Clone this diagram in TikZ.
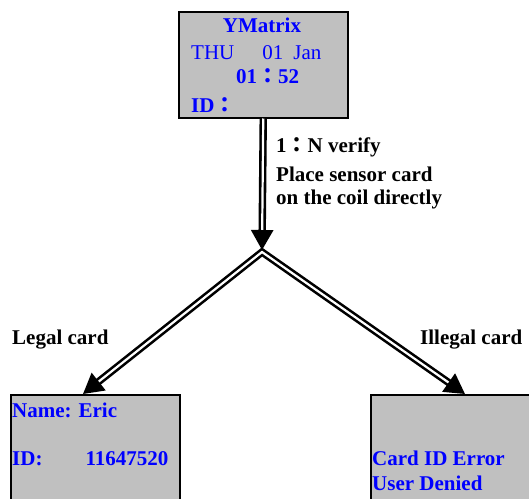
\documentclass[tikz,border=0pt]{standalone}
\usepackage{fontspec}
\setmainfont{Liberation Serif}
\newfontfamily\cjk{Noto Sans CJK TC}
\usetikzlibrary{arrows.meta}
\usetikzlibrary{calc}
\usepackage{xcolor}
\definecolor{panelgray}{HTML}{C0C0C0}
\definecolor{lcdblue}{HTML}{0000FF}

\begin{document}
\begin{tikzpicture}[
  x=1pt, y=-1pt,
  panel/.style={draw, line width=1.5pt, fill=panelgray, minimum width=169pt, minimum height=106pt, inner sep=0pt, anchor=north west},
  lcd/.style={text=lcdblue, font=\bfseries\fontsize{21}{25}\selectfont, inner sep=0pt, anchor=base west},
  note/.style={font=\bfseries\fontsize{21}{25}\selectfont, inner sep=0pt, anchor=base west},
  dbl/.style={line width=2.6pt, double=white, double distance=2.2pt}
]
\useasboundingbox (0,0) rectangle (529,498);

% the three screens
\node[panel] (lcd) at (178,11) {};
\node[panel] (okbox) at (10,394) {};
\node[panel] (badbox) at (370,394) {};

\coordinate (fork) at (262,252);
\coordinate (oktip) at ($(okbox.north west)+(73,0)$);
\coordinate (badtip) at ($(badbox.north west)+(95,0)$);

% screen texts
\node[lcd, anchor=base] (brand) at (262,32) {YMatrix};
\node[lcd, font=\fontsize{21}{25}\selectfont] (date) at (191,59) {THU\hspace{28pt}01\hspace{10pt}Jan};
\node[lcd] (clock) at (236,83) {01{\cjk ：}52};
\node[lcd] (idline) at (191,112) {ID{\cjk ：}};

\node[lcd] (name) at (12,417) {Name: Eric};
\node[lcd] (idnum) at (12,465) {ID:\hspace{43pt}11647520};

\node[lcd] (err) at (372,465) {Card ID Error};
\node[lcd] (deny) at (372,490) {User Denied};

% connectors
\draw[dbl, {Triangle[length=20pt,width=22pt]}-{Triangle[length=20pt,width=22pt]}] (oktip) -- (fork) -- (badtip);
\draw[dbl, -{Triangle[length=20pt,width=22pt]}] (lcd.south) -- (262,250);

\node[note] (verify) at (276,152) {1{\cjk ：}N verify};
\node[note] (place) at (276,181) {Place sensor card};
\node[note] (coil) at (276,204) {on the coil directly};

\node[note] (legal) at (12,344) {Legal card};
\node[note] (illegal) at (420,344) {Illegal card};

\end{tikzpicture}
\end{document}
